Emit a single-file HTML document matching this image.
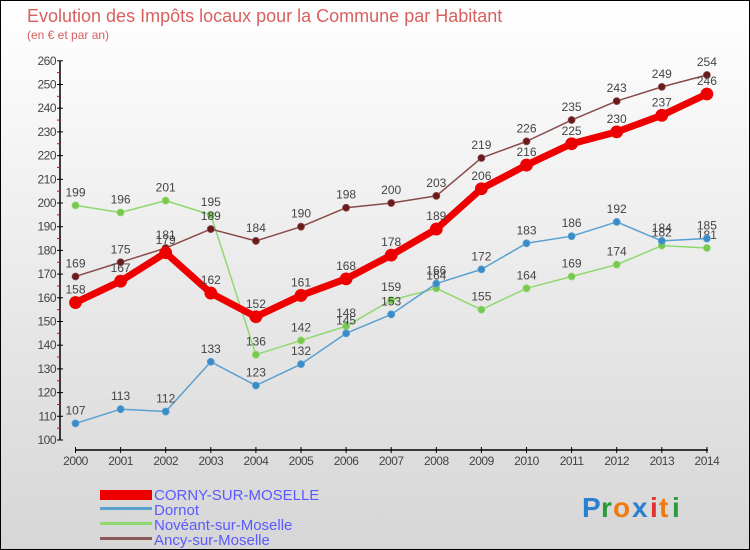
<!DOCTYPE html>
<html><head><meta charset="utf-8"><style>
body{margin:0;width:750px;height:550px;overflow:hidden;font-family:"Liberation Sans",sans-serif}
#wrap{position:absolute;left:0;top:0;width:748px;height:548px;border:1px solid #000;background:linear-gradient(#fff,#d6d6d6)}
</style></head><body>
<div id="wrap">
<svg id="c" width="750" height="550" style="position:absolute;left:-1px;top:-1px">
<text x="27" y="22" font-size="18" fill="#d95f5f">Evolution des Impôts locaux pour la Commune par Habitant</text>
<text x="27" y="39" font-size="12" fill="#d95f5f">(en € et par an)</text>
<g id="axes"></g><g id="series"></g>
<g>
<rect x="100" y="490" width="52" height="10" fill="#e00"/>
<text x="154" y="500" font-size="15" fill="#5a5aff">CORNY-SUR-MOSELLE</text>
<rect x="100" y="507" width="52" height="3" fill="#5aa0d0"/>
<text x="154" y="515" font-size="15" fill="#5a5aff">Dornot</text>
<rect x="100" y="522" width="52" height="3" fill="#90d870"/>
<text x="154" y="530" font-size="15" fill="#5a5aff">Novéant-sur-Moselle</text>
<rect x="100" y="537" width="52" height="3" fill="#8a5a5a"/>
<text x="154" y="545" font-size="15" fill="#5a5aff">Ancy-sur-Moselle</text>
</g>
<g font-size="28" font-weight="bold">
<text x="582" y="517" fill="#2a7fd0">P</text><text x="601" y="517" fill="#2a9a3a">r</text><text x="613" y="517" fill="#f07a10">o</text><text x="632" y="517" fill="#2a7fd0">x</text><text x="650" y="517" fill="#e03030">i</text><text x="659" y="517" fill="#f07a10">t</text><text x="672" y="517" fill="#2a9a3a">i</text>
</g>
</svg></div>
<script>
const years=[2000,2001,2002,2003,2004,2005,2006,2007,2008,2009,2010,2011,2012,2013,2014];
const corny=[158,167,179,162,152,161,168,178,189,206,216,225,230,237,246];
const dornot=[107,113,112,133,123,132,145,153,166,172,183,186,192,184,185];
const noveant=[199,196,201,195,136,142,148,159,164,155,164,169,174,182,181];
const ancy=[169,175,181,189,184,190,198,200,203,219,226,235,243,249,254];
const yTicks=[100,110,120,130,140,150,160,170,180,190,200,210,220,230,240,250,260];
const NS="http://www.w3.org/2000/svg";
const xs=i=>75.5+i*45.1;
const ys=v=>440-(v-100)*2.37;
function mk(tag,attrs,parent){const e=document.createElementNS(NS,tag);for(const k in attrs)e.setAttribute(k,attrs[k]);parent.appendChild(e);return e;}
const ax=document.getElementById('axes');
let l=mk('line',{x1:60,y1:ys(260),x2:60,y2:ys(100),stroke:'#000','stroke-width':1.5},ax);


l=mk('line',{x1:75,y1:450,x2:708,y2:450,stroke:'#000','stroke-width':1.5},ax);


yTicks.forEach(v=>{
  mk('line',{x1:57,x2:63,y1:ys(v),y2:ys(v),stroke:'#000'},ax);
  if(v<260)mk('line',{x1:57,x2:60,y1:ys(v+5),y2:ys(v+5),stroke:'#e00'},ax);
  const t=mk('text',{x:56,y:ys(v)+4,'font-size':12,'text-anchor':'end',fill:'#444','letter-spacing':'-0.5'},ax);
  t.textContent=v;
  
  
});
years.forEach((y,i)=>{
  mk('line',{x1:xs(i),x2:xs(i),y1:447,y2:453,stroke:'#000'},ax);
  const t=mk('text',{x:xs(i),y:465,'font-size':12,'text-anchor':'middle',fill:'#444','letter-spacing':'-0.5'},ax);
  t.textContent=y;
  
  
});
const sg=document.getElementById('series');
function draw(name,vals,color,dot,w,r){
  const g=mk('g',{},sg);
  
  
  const p=mk('polyline',{points:vals.map((v,i)=>xs(i)+','+ys(v)).join(' '),fill:'none',stroke:color,'stroke-width':w,'stroke-linejoin':'round'},g);
  
  
  vals.forEach((v,i)=>{
    const c=mk('circle',{cx:xs(i),cy:ys(v),r:r,fill:dot,stroke:color,'stroke-width':0.8},g);
    
    
    const t=mk('text',{x:xs(i),y:ys(v)-9,'font-size':12,'text-anchor':'middle',fill:'#444'},g);
    t.textContent=v;
    
    
  });
}
draw('noveant',noveant,'#90d870','#78c850',1.5,3.5);
draw('dornot',dornot,'#5aa0d0','#3a8cc8',1.5,3.5);
draw('ancy',ancy,'#8a4a4a','#6a1a1a',1.5,3.5);
draw('corny',corny,'#ee0000','#ee0000',7,6);
</script>
</body></html>
